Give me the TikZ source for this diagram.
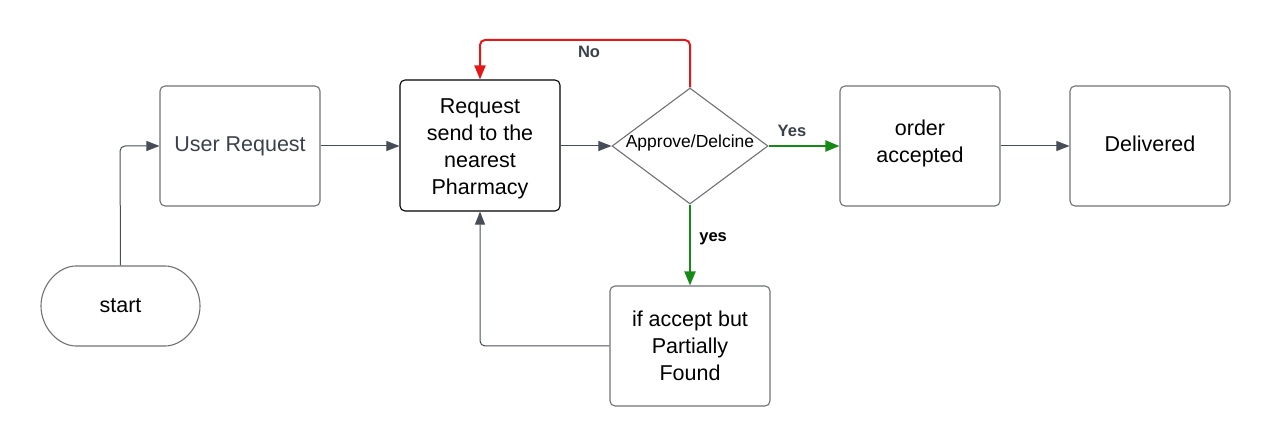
\documentclass[tikz,border=0pt]{standalone}
\usepackage{fontspec}
\setmainfont{Liberation Sans}
\usetikzlibrary{arrows.meta,shapes.geometric,shapes.misc}
\definecolor{lineg}{HTML}{474D57}
\definecolor{boxg}{HTML}{6E7178}
\definecolor{txtg}{HTML}{3A414A}
\definecolor{redl}{HTML}{E61717}
\definecolor{greenl}{HTML}{168A16}
\tikzset{
  box/.style={draw=boxg, line width=1.1pt, rounded corners=5pt, minimum width=160pt, minimum height=120pt, align=center, font=\fontsize{21.5}{27}\selectfont, inner sep=0pt},
  txt/.style={align=center, font=\fontsize{21.5}{27}\selectfont, inner sep=0pt},
  conn/.style={draw=lineg, line width=1pt, rounded corners=5pt, -{Triangle[length=13pt,width=10pt]}},
  cconn/.style={line width=2pt, rounded corners=5pt, -{Triangle[length=14pt,width=11pt]}},
  lbl/.style={font=\fontsize{16.5}{19}\bfseries\selectfont, text=txtg},
}
\begin{document}
\begin{tikzpicture}[x=1pt,y=-1pt]
\useasboundingbox (0,0) rectangle (1270,446);
\node[box, draw=boxg, rounded rectangle, minimum width=159pt, minimum height=80pt] (start) at (120.5,306) {start};
\node[box, text=txtg] (user) at (240,146) {User Request};
\node[box, draw=black, minimum height=131pt] (req) at (480,145.5) {};
\node[txt] (reqt) at (480,148.5) {Request\\send to the\\nearest\\Pharmacy};
\node[draw=boxg, line width=1.1pt, diamond, aspect=1.345, minimum width=156pt, minimum height=116pt, inner sep=0pt] (dec) at (690,146) {};
\node[font=\fontsize{17.5}{21}\selectfont] (dect) at (690,143) {Approve/Delcine};
\node[box] (acc) at (920,146) {};
\node[txt] (acct) at (920,143) {order\\accepted};
\node[box] (del) at (1150,146) {};
\node[txt] (delt) at (1150,144) {Delivered};
\node[box] (part) at (690,346) {if accept but\\Partially\\Found};
\coordinate (c1) at (120,146);
\coordinate (c2) at (690,40);
\coordinate (c3) at (480,40);
\coordinate (c4) at (480,346);
\draw[conn] (start.north) -- (c1) -- (user.west);
\draw[conn] (user.east) -- (req.west |- user.east);
\draw[conn] (req.east |- dec.west) -- (dec.west);
\draw[cconn, color=greenl] (dec.east) -- (acc.west) node[lbl, pos=0.33, above=5pt] {Yes};
\draw[conn] (acc.east) -- (del.west);
\draw[cconn, color=redl] (dec.north) -- (c2) -- (c3) -- (req.north);
\node[lbl] (nolbl) at (589,52) {No};
\draw[cconn, color=greenl] (dec.south) -- (part.north) node[lbl, text=black, pos=0.42, right=5pt] {yes};
\draw[conn] (part.west) -- (c4) -- (req.south);
\end{tikzpicture}
\end{document}
